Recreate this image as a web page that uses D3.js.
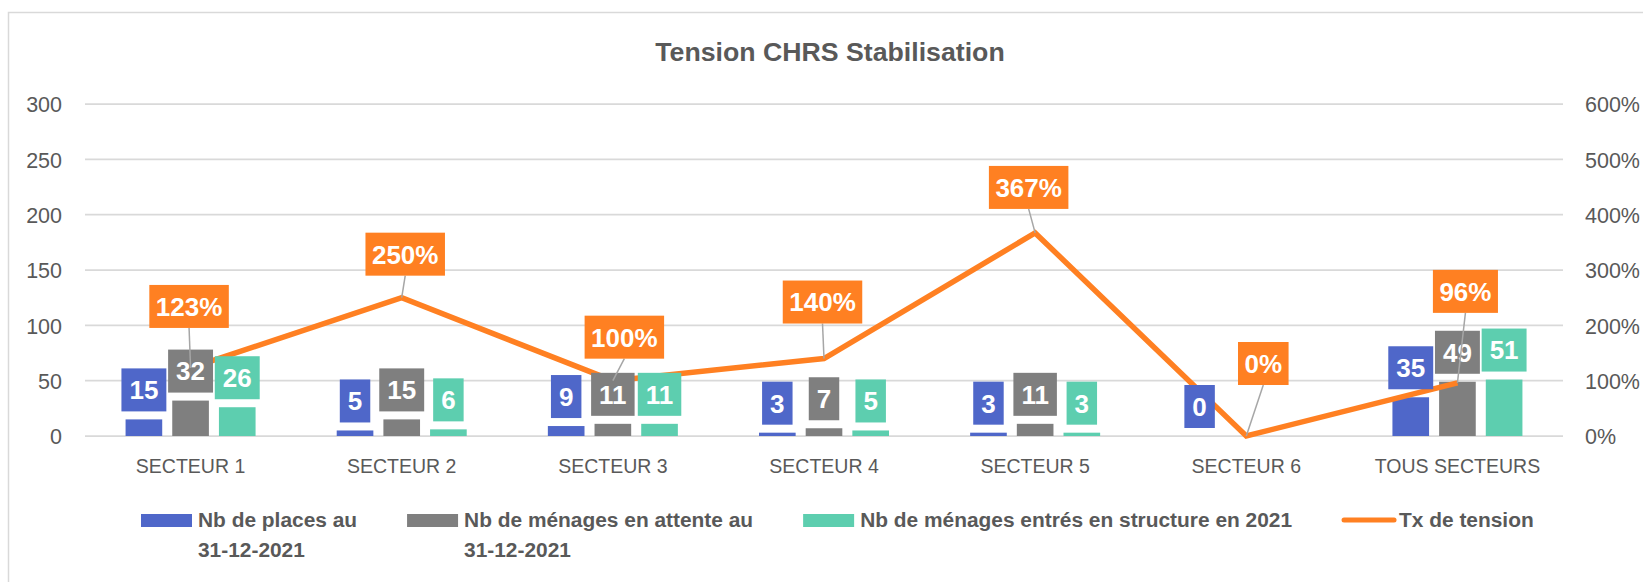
<!DOCTYPE html>
<html>
<head>
<meta charset="utf-8">
<script src="https://cdn.jsdelivr.net/npm/d3@7"></script>
<style>
  body { margin: 0; background: #fff; }
  svg { display: block; font-family: "Liberation Sans", Arial, sans-serif; }
</style>
</head>
<body>
<svg id="chart" width="1643" height="582"></svg>
<script>
// data
var categories = ["SECTEUR 1", "SECTEUR 2", "SECTEUR 3", "SECTEUR 4", "SECTEUR 5", "SECTEUR 6", "TOUS SECTEURS"];
var places = [15, 5, 9, 3, 3, 0, 35];
var attente = [32, 15, 11, 7, 11, null, 49];
var entres = [26, 6, 11, 5, 3, null, 51];
var tension = [1.23, 2.50, 1.00, 1.40, 3.67, 0, 0.96];

var leftTicks = [0, 50, 100, 150, 200, 250, 300];
var rightTicks = [0, 1, 2, 3, 4, 5, 6];

var seriesNames = [
  ["Nb de places au", "31-12-2021"],
  ["Nb de ménages en attente au", "31-12-2021"],
  ["Nb de ménages entrés en structure en 2021"],
  ["Tx de tension"]
];
var colors = ["#4F67C9", "#7F7F7F", "#5DCEAF", "#FF8022"];

// manual offsets of the tension labels (box centre x, box bottom y) from their point
var tensionLabelOffsets = [[-1.5, -40], [3.5, -22], [11.5, -22], [-1.5, -35], [-6.5, -24], [17, -51], [8, -70]];

var svg = d3.select("#chart");
// plot area (window.top is taken, so no bare "top")
var plot = { left: 85, right: 1563, top: 104, bottom: 436 };

// chart frame
svg.append("rect")
  .attr("x", 8.5).attr("y", 12.5)
  .attr("width", 1700).attr("height", 700)
  .attr("fill", "none").attr("stroke", "#D9D9D9").attr("stroke-width", 1.5);

svg.append("text")
  .attr("x", 830).attr("y", 61)
  .attr("text-anchor", "middle")
  .attr("font-size", 26.7).attr("font-weight", "bold")
  .attr("fill", "#595959")
  .text("Tension CHRS Stabilisation");

var x = d3.scaleBand().domain(categories).range([plot.left, plot.right]);
var y = d3.scaleLinear().domain([0, 300]).range([plot.bottom, plot.top]);
var y2 = d3.scaleLinear().domain([0, 6]).range([plot.bottom, plot.top]);
var x1 = d3.scaleBand().domain([0, 1, 2])
  .range([x.bandwidth() / 2 - 65, x.bandwidth() / 2 + 65])
  .paddingInner(0.215);

// gridlines
svg.append("g").selectAll("line")
  .data(leftTicks).enter().append("line")
  .attr("x1", plot.left).attr("x2", plot.right)
  .attr("y1", function(d) { return y(d); })
  .attr("y2", function(d) { return y(d); })
  .attr("stroke", "#D9D9D9").attr("stroke-width", 1.75);

// axes
var gl = svg.append("g").attr("transform", "translate(" + (plot.left - 23) + ",0)")
  .call(d3.axisLeft(y).tickValues(leftTicks).tickSize(0).tickPadding(0));
var gr = svg.append("g").attr("transform", "translate(" + (plot.right + 22) + ",0)")
  .call(d3.axisRight(y2).tickValues(rightTicks).tickSize(0).tickPadding(0)
    .tickFormat(function(d) { return (d * 100) + "%"; }));
var gb = svg.append("g").attr("transform", "translate(0,473)")
  .call(d3.axisBottom(x).tickSize(0).tickPadding(0));

[gl, gr, gb].forEach(function(g) {
  g.select(".domain").remove();
  g.attr("font-family", null);
  g.selectAll("text").attr("fill", "#595959");
});
gl.attr("font-size", 21.5).selectAll("text").attr("dy", "0.36em");
gr.attr("font-size", 21.5).selectAll("text").attr("dy", "0.36em");
gb.attr("font-size", 19.5).selectAll("text").attr("dy", 0).attr("y", 0);

// bars
var barSeries = [places, attente, entres];
var barData = [];
barSeries.forEach(function(vals, s) {
  vals.forEach(function(v, i) {
    if (v !== null) barData.push({ s: s, cat: categories[i], v: v });
  });
});

svg.append("g").selectAll("rect")
  .data(barData).enter().append("rect")
  .attr("x", function(d) { return x(d.cat) + x1(d.s); })
  .attr("y", function(d) { return y(d.v); })
  .attr("width", x1.bandwidth())
  .attr("height", function(d) { return plot.bottom - y(d.v); })
  .attr("fill", function(d) { return colors[d.s]; });

// tension line
var pts = tension.map(function(t, i) {
  return [x(categories[i]) + x.bandwidth() / 2, y2(t)];
});
svg.append("path")
  .attr("d", d3.line()(pts))
  .attr("fill", "none")
  .attr("stroke", colors[3]).attr("stroke-width", 5.5)
  .attr("stroke-linejoin", "miter").attr("stroke-miterlimit", 4);

// boxed label helper
function boxLabel(g, cx, bottomY, txt, fill, padX) {
  var t = g.append("text")
    .attr("font-size", 26).attr("font-weight", "bold")
    .attr("fill", "#fff").attr("text-anchor", "middle")
    .text(txt);
  var w = t.node().getComputedTextLength() + padX * 2;
  var h = 43;
  g.insert("rect", function() { return t.node(); })
    .attr("x", cx - w / 2).attr("y", bottomY - h)
    .attr("width", w).attr("height", h)
    .attr("fill", fill);
  t.attr("x", cx).attr("y", bottomY - h / 2 + 26 * 0.36);
}

// bar labels
var bl = svg.append("g");
barData.forEach(function(d) {
  var cx = x(d.cat) + x1(d.s) + x1.bandwidth() / 2;
  boxLabel(bl, cx, y(d.v) - 8, d.v, colors[d.s], 8);
});

// tension labels with leader lines
var tl = svg.append("g");
tension.forEach(function(t, i) {
  var p = pts[i], o = tensionLabelOffsets[i];
  var cx = p[0] + o[0], by = p[1] + o[1];
  tl.append("line")
    .attr("x1", cx).attr("y1", by)
    .attr("x2", p[0]).attr("y2", p[1])
    .attr("stroke", "#A6A6A6").attr("stroke-width", 1.5);
  boxLabel(tl, cx, by, Math.round(t * 100) + "%", colors[3], 6.5);
});

// legend
var lg = svg.append("g");
var lx = 141;
seriesNames.forEach(function(lines, s) {
  if (s < 3) {
    lg.append("rect").attr("x", lx).attr("y", 514)
      .attr("width", 51).attr("height", 13).attr("fill", colors[s]);
  } else {
    lg.append("line").attr("x1", lx + 2).attr("x2", lx + 52)
      .attr("y1", 520).attr("y2", 520)
      .attr("stroke", colors[s]).attr("stroke-width", 5)
      .attr("stroke-linecap", "round");
  }
  var tx = lx + 57, maxW = 0;
  lines.forEach(function(line, k) {
    var t = lg.append("text")
      .attr("x", tx).attr("y", 527 + k * 30)
      .attr("font-size", 20.9).attr("font-weight", "bold")
      .attr("fill", "#595959")
      .text(line);
    maxW = Math.max(maxW, t.node().getComputedTextLength());
  });
  lx = tx + maxW + 50;
});
</script>
</body>
</html>
